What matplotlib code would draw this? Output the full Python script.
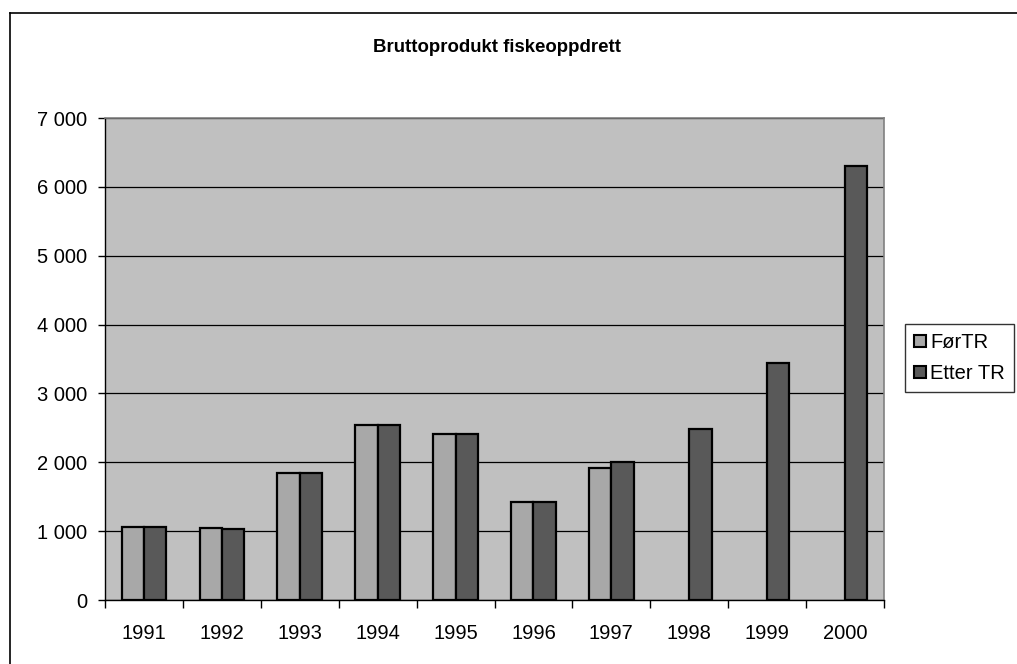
import matplotlib
matplotlib.use("Agg")
import matplotlib.pyplot as plt
import numpy as np
from matplotlib.lines import Line2D
from matplotlib.ticker import FuncFormatter

plt.rcParams['font.family'] = ['Liberation Sans', 'DejaVu Sans']

years = ['1991', '1992', '1993', '1994', '1995', '1996', '1997', '1998', '1999', '2000']
for_tr = [1062, 1046, 1849, 2541, 2416, 1430, 1923, np.nan, np.nan, np.nan]
etter_tr = [1062, 1036, 1849, 2541, 2416, 1430, 2005, 2479, 3438, 6300]
series_names = ['FørTR', 'Etter TR']
title = 'Bruttoprodukt fiskeoppdrett'

W, H = 1017, 664
fig = plt.figure(figsize=(W / 100, H / 100), dpi=100)
fig.patch.set_facecolor('white')

# outer chart border (left and top edges visible)
fig.add_artist(Line2D([10 / W, 10 / W], [0, 1 - 13 / H], transform=fig.transFigure, color='black', lw=1.2))
fig.add_artist(Line2D([10 / W, 1], [1 - 13 / H, 1 - 13 / H], transform=fig.transFigure, color='black', lw=1.2))

left, right, top, bottom = 105, 884, 118, 600
ax = fig.add_axes([left / W, 1 - bottom / H, (right - left) / W, (bottom - top) / H])
ax.set_facecolor('#C0C0C0')

x = np.arange(len(years))
bw = 1 / 3.5
c1, c2 = '#A8A8A8', '#595959'
ax.bar(x - bw / 2, for_tr, width=bw, color=c1, edgecolor='black', linewidth=1.6, zorder=3)
ax.bar(x + bw / 2, etter_tr, width=bw, color=c2, edgecolor='black', linewidth=1.6, zorder=3)

ax.set_xlim(-0.5, len(years) - 0.5)
ax.set_ylim(0, 7000)
ax.set_yticks(np.arange(0, 7001, 1000))
ax.yaxis.set_major_formatter(FuncFormatter(lambda v, p: f"{int(v):,}".replace(',', ' ')))
ax.grid(axis='y', color='black', linewidth=0.9, zorder=1)

ax.set_xticks(np.arange(-0.5, len(years), 1.0))
ax.set_xticklabels([])
ax.set_xticks(x, minor=True)
ax.set_xticklabels(years, minor=True)
ax.tick_params(axis='x', which='major', length=6, width=1, color='black', direction='out')
ax.tick_params(axis='x', which='minor', length=0, pad=17.5, labelsize=14.5)
ax.tick_params(axis='y', length=5, width=1, pad=8, labelsize=14.5)

for s in ['top', 'right']:
    ax.spines[s].set_color('#808080')
    ax.spines[s].set_linewidth(1.2)
for s in ['left', 'bottom']:
    ax.spines[s].set_color('black')
    ax.spines[s].set_linewidth(1.0)

fig.text(497 / W, 1 - 47 / H, title, ha='center', va='center', fontsize=13.4, fontweight='bold')

handles = [plt.Rectangle((0, 0), 1, 1, facecolor=c1, edgecolor='black', linewidth=1.5),
           plt.Rectangle((0, 0), 1, 1, facecolor=c2, edgecolor='black', linewidth=1.5)]
leg = fig.legend(handles, series_names, loc='upper left', bbox_to_anchor=(905 / W, 1 - 324 / H),
                 frameon=True, fancybox=False, edgecolor='black', fontsize=14.5,
                 handlelength=0.6, handleheight=0.6, handletextpad=0.2, borderpad=0.45,
                 labelspacing=0.6, borderaxespad=0)
leg.get_frame().set_linewidth(1.0)

fig.savefig('out.png', dpi=100, facecolor='white')
